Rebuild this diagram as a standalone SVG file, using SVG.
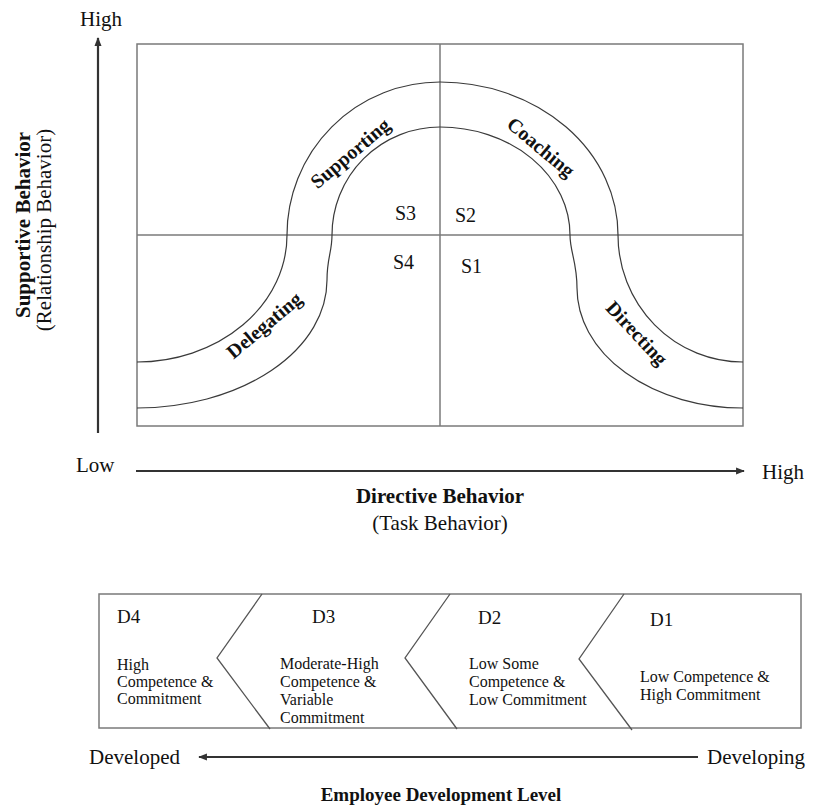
<svg xmlns="http://www.w3.org/2000/svg" width="816" height="807" viewBox="0 0 816 807">
<style>
  text { font-family: "Liberation Serif", "Times New Roman", serif; fill: #111; }
  .ax { font-size: 21px; }
  .axb { font-size: 21px; font-weight: bold; }
  .s { font-size: 20px; }
  .lbl { font-size: 20px; font-weight: bold; text-anchor: middle; }
  .d { font-size: 19px; }
  .body { font-size: 16px; }
  .frame { fill: none; stroke: #7a7a7a; stroke-width: 1.5; }
  .band { fill: none; stroke: #3a3a3a; stroke-width: 1.2; }
  .arrow { fill: none; stroke: #333; stroke-width: 2.2; }
  .chev { fill: none; stroke: #555; stroke-width: 1.3; }
</style>
<defs>
  <marker id="ah" viewBox="0 0 10 10" refX="9" refY="5" markerWidth="4" markerHeight="4" orient="auto" markerUnits="strokeWidth">
    <path d="M0,1 L10,5 L0,9 Z" fill="#333"/>
  </marker>
</defs>

<!-- main grid -->
<g id="grid">
  <rect class="frame" x="137" y="44" width="606" height="382"/>
  <line class="frame" x1="440" y1="44" x2="440" y2="426"/>
  <line class="frame" x1="137" y1="235" x2="743" y2="235"/>
</g>

<!-- leadership band -->
<g id="band">
  <path class="band" d="M137,362 A150,127 0 0 0 287,235 A153,153 0 0 1 440,82 A178,153 0 0 1 618,235 A125,127 0 0 0 743,362"/>
  <path class="band" d="M137,408 A190,128 0 0 0 327,280 C327,258 332,252 332,235 A108,108 0 0 1 440,127 A130,108 0 0 1 570,235 C570,252 577,262 577,288 A166,120 0 0 0 743,408"/>
</g>

<g id="supporting"><text class="lbl" transform="translate(350,153) rotate(-40)" y="7">Supporting</text></g>
<g id="coaching"><text class="lbl" transform="translate(541,147) rotate(40)" y="7">Coaching</text></g>
<g id="delegating"><text class="lbl" transform="translate(264,325) rotate(-40)" y="7">Delegating</text></g>
<g id="directing"><text class="lbl" transform="translate(637,333) rotate(47)" y="7">Directing</text></g>

<g id="s3"><text class="s" x="395" y="220">S3</text></g>
<g id="s2"><text class="s" x="455" y="222">S2</text></g>
<g id="s4"><text class="s" x="393" y="269">S4</text></g>
<g id="s1"><text class="s" x="461" y="273">S1</text></g>

<!-- axes -->
<g id="axes">
  <line class="arrow" x1="98" y1="433" x2="98" y2="38" marker-end="url(#ah)"/>
  <line class="arrow" x1="136" y1="471" x2="744" y2="471" marker-end="url(#ah)"/>
  <line class="arrow" x1="698" y1="757" x2="199" y2="757" marker-end="url(#ah)"/>
</g>

<g id="y-axis-labels">
  <text class="ax" x="80" y="26">High</text>
  <text class="axb" transform="translate(30,225) rotate(-90)" text-anchor="middle">Supportive Behavior</text>
  <text class="ax" transform="translate(51,230) rotate(-90)" text-anchor="middle">(Relationship Behavior)</text>
</g>

<g id="x-axis-labels">
  <text class="ax" x="76" y="472">Low</text>
  <text class="ax" x="762" y="479">High</text>
  <text class="axb" x="440" y="503" text-anchor="middle">Directive Behavior</text>
  <text class="ax" x="440" y="530" text-anchor="middle">(Task Behavior)</text>
</g>

<!-- development level strip -->
<g id="dev-box">
  <rect class="frame" x="99" y="594" width="702" height="134" stroke-width="1.3"/>
  <polyline class="chev" points="262,594 217,658 270,729"/>
  <polyline class="chev" points="450,594 405,658 457,729"/>
  <polyline class="chev" points="624,594 579,659 632,730"/>
</g>

<g id="d4">
  <text class="d" x="117" y="623">D4</text>
  <text class="body"><tspan x="117" y="670">High</tspan><tspan x="117" y="687">Competence &amp;</tspan><tspan x="117" y="704">Commitment</tspan></text>
</g>
<g id="d3">
  <text class="d" x="312" y="623">D3</text>
  <text class="body"><tspan x="280" y="669">Moderate-High</tspan><tspan x="280" y="687">Competence &amp;</tspan><tspan x="280" y="705">Variable</tspan><tspan x="280" y="723">Commitment</tspan></text>
</g>
<g id="d2">
  <text class="d" x="478" y="624">D2</text>
  <text class="body"><tspan x="469" y="669">Low Some</tspan><tspan x="469" y="687">Competence &amp;</tspan><tspan x="469" y="705">Low Commitment</tspan></text>
</g>
<g id="d1">
  <text class="d" x="650" y="626">D1</text>
  <text class="body"><tspan x="640" y="682">Low Competence &amp;</tspan><tspan x="640" y="700">High Commitment</tspan></text>
</g>

<g id="dev-labels">
  <text class="ax" x="89" y="764">Developed</text>
  <text class="ax" x="707" y="764">Developing</text>
  <text class="axb" x="441" y="801" text-anchor="middle" style="font-size:19px">Employee Development Level</text>
</g>
</svg>
